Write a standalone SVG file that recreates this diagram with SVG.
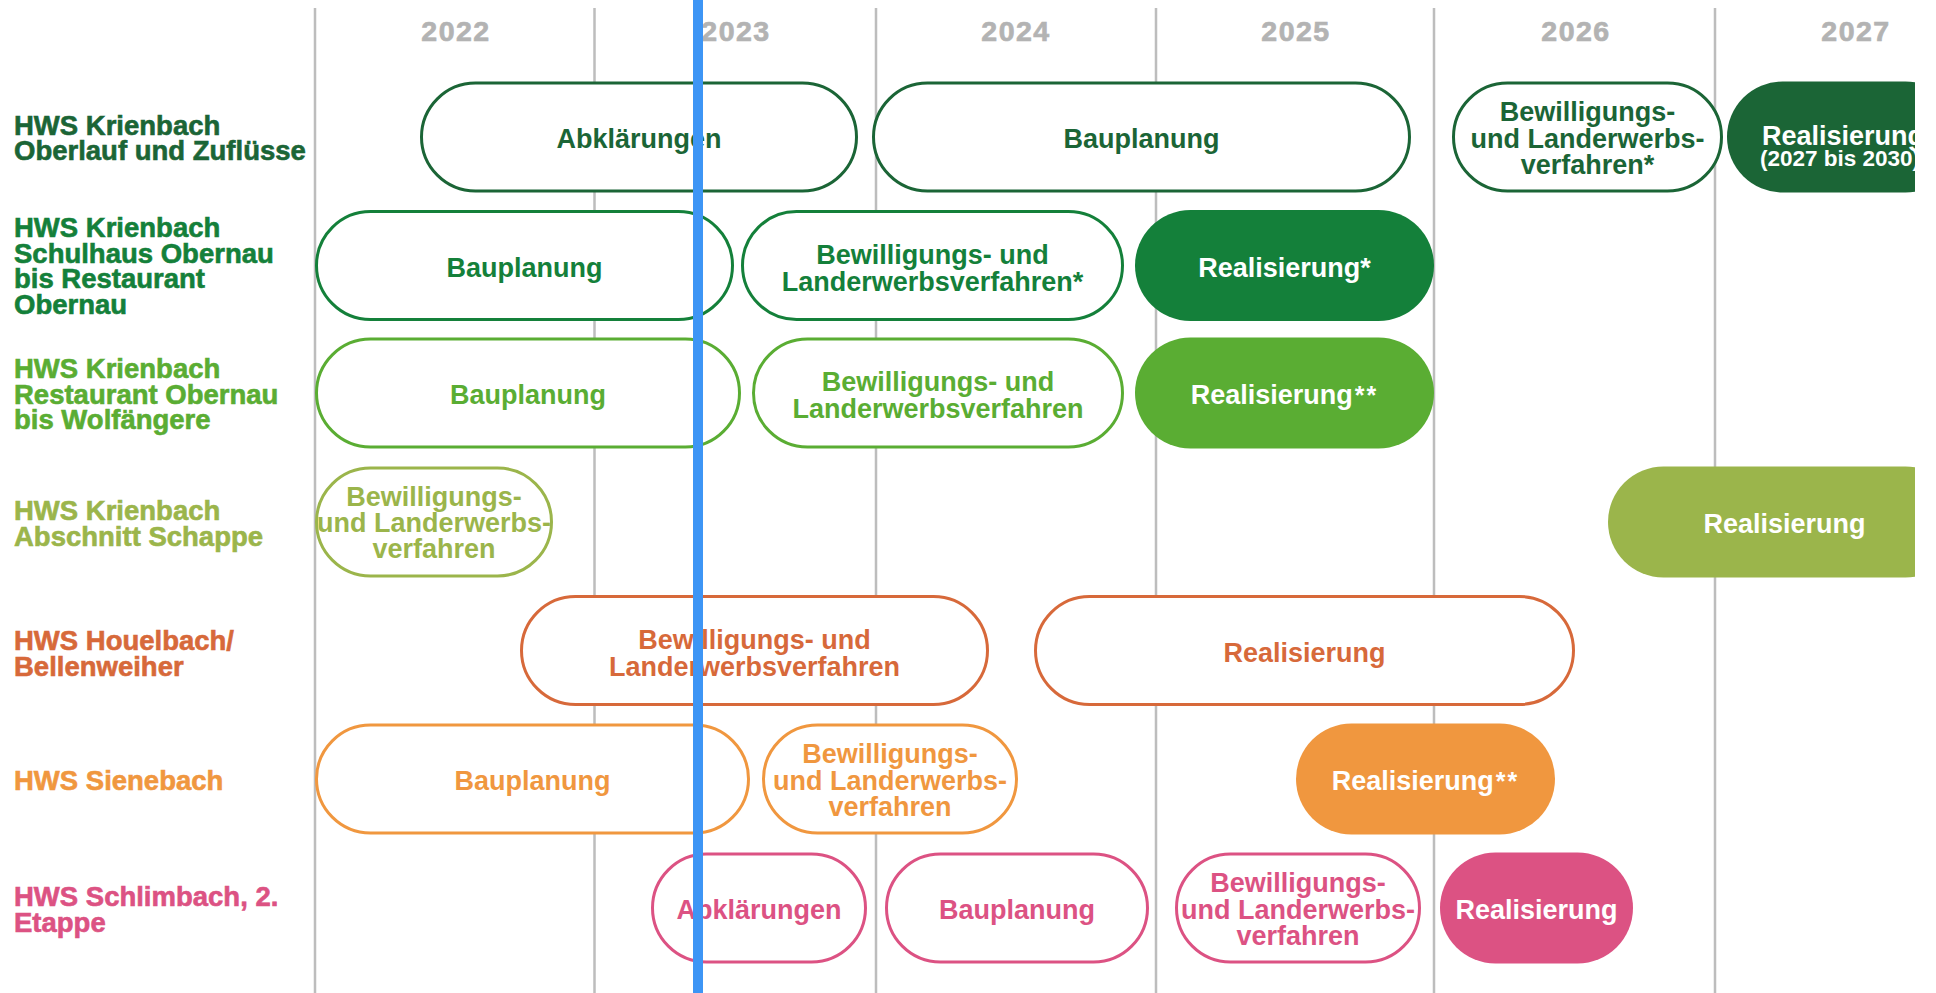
<svg xmlns="http://www.w3.org/2000/svg" width="1936" height="993" viewBox="0 0 1936 993">
<style>
text{font-family:"Liberation Sans",Arial,sans-serif;font-weight:bold}
.grid{stroke:#bdbdbd;stroke-width:2.5}
.yr{font-size:28.5px;fill:#b3b3b3;stroke:#b3b3b3;stroke-width:0.7;text-anchor:middle;letter-spacing:1.5px}
.lbl{font-size:27.5px;stroke-width:0.6}
.pt{font-size:27px;text-anchor:middle}
.o{fill:#fff;stroke-width:3}
.sup{font-size:25px;letter-spacing:2px}
.s1{stroke:#1b6536}.f1{fill:#1b6536}
.s2{stroke:#14803a}.f2{fill:#14803a}
.s3{stroke:#5aad33}.f3{fill:#5aad33}
.s4{stroke:#9bb54b}.f4{fill:#9bb54b}
.s5{stroke:#d7693a}.f5{fill:#d7693a}
.s6{stroke:#f0973f}.f6{fill:#f0973f}
.s7{stroke:#dc5283}.f7{fill:#dc5283}
.w{fill:#fff}
</style>
<defs>
<clipPath id="clipR"><rect x="0" y="0" width="1915" height="993"/></clipPath>
</defs>
<rect x="0" y="0" width="1936" height="993" fill="#fff"/>
<g id="grid">
<line class="grid" x1="315" y1="8" x2="315" y2="993"/>
<line class="grid" x1="594.5" y1="8" x2="594.5" y2="993"/>
<line class="grid" x1="876" y1="8" x2="876" y2="993"/>
<line class="grid" x1="1156" y1="8" x2="1156" y2="993"/>
<line class="grid" x1="1434" y1="8" x2="1434" y2="993"/>
<line class="grid" x1="1715" y1="8" x2="1715" y2="993"/>
</g>
<g id="years">
<text class="yr" x="456" y="41">2022</text>
<text class="yr" x="736" y="41">2023</text>
<text class="yr" x="1016" y="41">2024</text>
<text class="yr" x="1296" y="41">2025</text>
<text class="yr" x="1576" y="41">2026</text>
<text class="yr" x="1856" y="41">2027</text>
</g>
<g id="labels">
<text class="lbl f1 s1" x="14" y="135"><tspan x="14">HWS Krienbach</tspan><tspan x="14" dy="25">Oberlauf und Zuflüsse</tspan></text>
<text class="lbl f2 s2" x="14" y="237"><tspan x="14">HWS Krienbach</tspan><tspan x="14" dy="25.5">Schulhaus Obernau</tspan><tspan x="14" dy="25.5">bis Restaurant</tspan><tspan x="14" dy="25.5">Obernau</tspan></text>
<text class="lbl f3 s3" x="14" y="378"><tspan x="14">HWS Krienbach</tspan><tspan x="14" dy="25.5">Restaurant Obernau</tspan><tspan x="14" dy="25.5">bis Wolfängere</tspan></text>
<text class="lbl f4 s4" x="14" y="520"><tspan x="14">HWS Krienbach</tspan><tspan x="14" dy="26">Abschnitt Schappe</tspan></text>
<text class="lbl f5 s5" x="14" y="649.5"><tspan x="14">HWS Houelbach/</tspan><tspan x="14" dy="26.5">Bellenweiher</tspan></text>
<text class="lbl f6 s6" x="14" y="790">HWS Sienebach</text>
<text class="lbl f7 s7" x="14" y="906"><tspan x="14">HWS Schlimbach, 2.</tspan><tspan x="14" dy="25.5">Etappe</tspan></text>
</g>
<g id="connectors"/>
<g id="r1-abklaerungen">
<rect class="o s1" x="421.5" y="83" width="435" height="108" rx="54"/>
<text class="pt f1" x="639" y="148">Abklärungen</text>
</g>
<g id="r1-bauplanung">
<rect class="o s1" x="873.5" y="83" width="536" height="108" rx="54"/>
<text class="pt f1" x="1141.5" y="148">Bauplanung</text>
</g>
<g id="r1-bewilligung">
<rect class="o s1" x="1453.5" y="83" width="268" height="108" rx="54"/>
<text class="pt f1" x="1587.5" y="121"><tspan x="1587.5">Bewilligungs-</tspan><tspan x="1587.5" dy="26.5">und Landerwerbs-</tspan><tspan x="1587.5" dy="26.5">verfahren*</tspan></text>
</g>
<g id="r1-realisierung" clip-path="url(#clipR)">
<rect class="f1" x="1727" y="81.5" width="234" height="111" rx="55.5"/>
<text class="w" x="1762" y="145" font-size="27"><tspan x="1762">Realisierung</tspan><tspan x="1760" dy="21" font-size="22.5">(2027 bis 2030)</tspan></text>
</g>
<g id="r2-bauplanung">
<rect class="o s2" x="316.5" y="211.5" width="416" height="108" rx="54"/>
<text class="pt f2" x="524.5" y="276.5">Bauplanung</text>
</g>
<g id="r2-bewilligung">
<rect class="o s2" x="742.5" y="211.5" width="380" height="108" rx="54"/>
<text class="pt f2" x="932.5" y="263.5"><tspan x="932.5">Bewilligungs- und</tspan><tspan x="932.5" dy="27">Landerwerbsverfahren*</tspan></text>
</g>
<g id="r2-realisierung">
<rect class="f2" x="1135" y="210" width="299" height="111" rx="55.5"/>
<text class="pt w" x="1284.5" y="276.5">Realisierung*</text>
</g>
<g id="r3-bauplanung">
<rect class="o s3" x="316.5" y="339" width="423" height="108" rx="54"/>
<text class="pt f3" x="528" y="404">Bauplanung</text>
</g>
<g id="r3-bewilligung">
<rect class="o s3" x="753.5" y="339" width="369" height="108" rx="54"/>
<text class="pt f3" x="938" y="391"><tspan x="938">Bewilligungs- und</tspan><tspan x="938" dy="27">Landerwerbsverfahren</tspan></text>
</g>
<g id="r3-realisierung">
<rect class="f3" x="1135" y="337.5" width="299" height="111" rx="55.5"/>
<text class="pt w" x="1284.5" y="404">Realisierung<tspan class="sup" dx="2">**</tspan></text>
</g>
<g id="r4-bewilligung">
<rect class="o s4" x="316.5" y="468" width="235" height="108" rx="54"/>
<text class="pt f4" x="434" y="506" font-size="25"><tspan x="434">Bewilligungs-</tspan><tspan x="434" dy="26">und Landerwerbs-</tspan><tspan x="434" dy="26">verfahren</tspan></text>
</g>
<g id="r4-realisierung" clip-path="url(#clipR)">
<rect class="f4" x="1608" y="466.5" width="353" height="111" rx="55.5"/>
<text class="pt w" x="1784.5" y="533">Realisierung</text>
</g>
<g id="r5-bewilligung">
<rect class="o s5" x="521.5" y="596.5" width="466" height="108" rx="54"/>
<text class="pt f5" x="754.5" y="648.5"><tspan x="754.5">Bewilligungs- und</tspan><tspan x="754.5" dy="27">Landerwerbsverfahren</tspan></text>
</g>
<g id="r5-realisierung">
<rect class="o s5" x="1035.5" y="596.5" width="538" height="108" rx="54"/>
<text class="pt f5" x="1304.5" y="661.5">Realisierung</text>
</g>
<g id="r6-bauplanung">
<rect class="o s6" x="316.5" y="725" width="432" height="108" rx="54"/>
<text class="pt f6" x="532.5" y="790">Bauplanung</text>
</g>
<g id="r6-bewilligung">
<rect class="o s6" x="763.5" y="725" width="253" height="108" rx="54"/>
<text class="pt f6" x="890" y="763"><tspan x="890">Bewilligungs-</tspan><tspan x="890" dy="26.5">und Landerwerbs-</tspan><tspan x="890" dy="26.5">verfahren</tspan></text>
</g>
<g id="r6-realisierung">
<rect class="f6" x="1296" y="723.5" width="259" height="111" rx="55.5"/>
<text class="pt w" x="1425.5" y="790">Realisierung<tspan class="sup" dx="2">**</tspan></text>
</g>
<g id="r7-abklaerungen">
<rect class="o s7" x="652.5" y="854" width="213" height="108" rx="54"/>
<text class="pt f7" x="759" y="919">Abklärungen</text>
</g>
<g id="r7-bauplanung">
<rect class="o s7" x="886.5" y="854" width="261" height="108" rx="54"/>
<text class="pt f7" x="1017" y="919">Bauplanung</text>
</g>
<g id="r7-bewilligung">
<rect class="o s7" x="1176.5" y="854" width="243" height="108" rx="54"/>
<text class="pt f7" x="1298" y="892" font-size="26"><tspan x="1298">Bewilligungs-</tspan><tspan x="1298" dy="26.5">und Landerwerbs-</tspan><tspan x="1298" dy="26.5">verfahren</tspan></text>
</g>
<g id="r7-realisierung">
<rect class="f7" x="1440" y="852.5" width="193" height="111" rx="55.5"/>
<text class="pt w" x="1536.5" y="919">Realisierung</text>
</g>
<g id="today-marker">
<rect x="693" y="0" width="10" height="993" fill="#3d95f5"/>
</g>
</svg>
